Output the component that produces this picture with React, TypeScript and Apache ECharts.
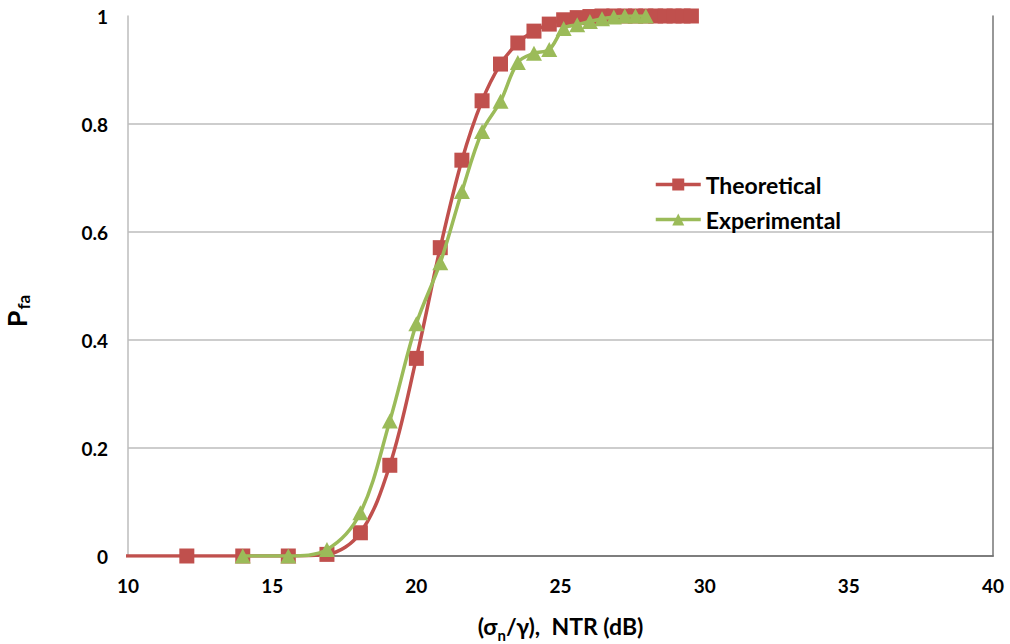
import React, { useEffect, useRef } from "react";
import * as echarts from "echarts";

// NTR (dB) values for the theoretical curve (first point lies just left of the axis and is clipped)
const theoreticalX = [9.54, 12.04, 13.98, 15.56, 16.9, 18.06, 19.08, 20.0, 20.83, 21.58, 22.28, 22.92, 23.52, 24.08, 24.61, 25.11, 25.58, 26.02, 26.44, 26.85, 27.23, 27.6, 27.96, 28.3, 28.63, 28.94, 29.25, 29.54];
const theoreticalY = [0, 0, 0, 0, 0.003, 0.043, 0.168, 0.366, 0.571, 0.733, 0.843, 0.911, 0.95, 0.972, 0.985, 0.993, 0.997, 0.999, 1, 1, 1, 1, 1, 1, 1, 1, 1, 1];

const experimentalX = [13.98, 15.56, 16.9, 18.06, 19.08, 20.0, 20.83, 21.58, 22.28, 22.92, 23.52, 24.08, 24.61, 25.11, 25.58, 26.02, 26.44, 26.85, 27.23, 27.6, 27.96];
const experimentalY = [0, 0, 0.012, 0.08, 0.25, 0.43, 0.543, 0.675, 0.786, 0.842, 0.914, 0.931, 0.938, 0.977, 0.984, 0.99, 0.995, 0.998, 1, 1, 1];

const seriesNames = ["Theoretical", "Experimental"];
const seriesColors = ["#C0504D", "#9BBB59"];

const FONT = "Lato, 'Open Sans', sans-serif";

export default function App() {
  const ref = useRef<HTMLDivElement>(null);

  useEffect(() => {
    if (!ref.current) return;
    const chart = echarts.init(ref.current, undefined, { renderer: "svg" });
    const pair = (xs: number[], ys: number[]) => xs.map((x, i) => [x, ys[i]]);

    chart.setOption({
      animation: false,
      backgroundColor: "#ffffff",
      textStyle: { fontFamily: FONT },
      grid: { left: 128, right: 17, top: 16, bottom: 88, show: false, containLabel: false, outerBoundsMode: "none" },
      legend: {
        orient: "vertical",
        left: 649,
        top: 168,
        itemWidth: 45,
        itemHeight: 15,
        itemGap: 12,
        data: seriesNames,
        lineStyle: { width: 3.5 },
        textStyle: { fontFamily: FONT, fontSize: 23, fontWeight: "bold", color: "#000" },
      },
      xAxis: [
        {
          type: "value",
          min: 10,
          max: 40,
          interval: 5,
          axisLine: { show: true, onZero: false, lineStyle: { color: "#767676", width: 1.5 } },
          axisTick: { show: false },
          splitLine: { show: false },
          axisLabel: { margin: 20, fontFamily: FONT, fontSize: 19, fontWeight: "bold", color: "#000" },
          name: "{a|(σ}{s|n}{a|/γ),  NTR (dB)}",
          nameLocation: "middle",
          nameGap: 58,
          nameTextStyle: {
            rich: {
              a: { fontFamily: FONT, fontSize: 23, fontWeight: "bold", color: "#000", lineHeight: 26, verticalAlign: "top" },
              s: { fontFamily: FONT, fontSize: 15, fontWeight: "bold", color: "#000", lineHeight: 15, padding: [13, 0, 0, 0], verticalAlign: "top" },
            },
          },
        },
        {
          type: "value",
          position: "top",
          min: 10,
          max: 40,
          axisLine: { show: true, lineStyle: { color: "#767676", width: 1.5 } },
          axisTick: { show: false },
          axisLabel: { show: false },
          splitLine: { show: false },
        },
      ],
      yAxis: [
        {
          type: "value",
          min: 0,
          max: 1,
          interval: 0.2,
          axisLine: { show: true, lineStyle: { color: "#BDBDBD", width: 1.5 } },
          axisTick: { show: false },
          splitLine: { show: true, showMinLine: false, showMaxLine: false, lineStyle: { color: "#BDBDBD", width: 1.5 } },
          axisLabel: {
            margin: 20,
            fontFamily: FONT,
            fontSize: 19,
            fontWeight: "bold",
            color: "#000",
            formatter: (v: number) => String(+v.toFixed(1)),
          },
          name: "{p|P}{s|fa}",
          nameLocation: "middle",
          nameRotate: 90,
          nameGap: 97,
          nameTextStyle: {
            padding: [0, 50, 0, 0],
            rich: {
              p: { fontFamily: FONT, fontSize: 27, fontWeight: "bold", color: "#000", lineHeight: 28, verticalAlign: "top" },
              s: { fontFamily: FONT, fontSize: 17, fontWeight: "bold", color: "#000", lineHeight: 17, padding: [12, 0, 0, 1], verticalAlign: "top" },
            },
          },
        },
        {
          type: "value",
          position: "right",
          min: 0,
          max: 1,
          axisLine: { show: true, lineStyle: { color: "#767676", width: 1.5 } },
          axisTick: { show: false },
          axisLabel: { show: false },
          splitLine: { show: false },
        },
      ],
      series: [
        {
          name: seriesNames[0],
          type: "line",
          xAxisIndex: 0,
          yAxisIndex: 0,
          data: pair(theoreticalX, theoreticalY),
          smooth: 0.35,
          clip: true,
          symbol: "rect",
          symbolSize: 15,
          color: seriesColors[0],
          itemStyle: { color: seriesColors[0] },
          lineStyle: { color: seriesColors[0], width: 3.5 },
          z: 3,
        },
        {
          name: seriesNames[1],
          type: "line",
          xAxisIndex: 0,
          yAxisIndex: 0,
          data: pair(experimentalX, experimentalY),
          smooth: 0.35,
          clip: true,
          symbol: "triangle",
          symbolSize: [16, 15],
          color: seriesColors[1],
          itemStyle: { color: seriesColors[1] },
          lineStyle: { color: seriesColors[1], width: 3.5 },
          z: 4,
        },
      ],
    });

    return () => chart.dispose();
  }, []);

  return (
    <div
      ref={ref}
      style={{ position: "fixed", left: 0, top: 0, width: 1010, height: 644, background: "#fff" }}
    />
  );
}
